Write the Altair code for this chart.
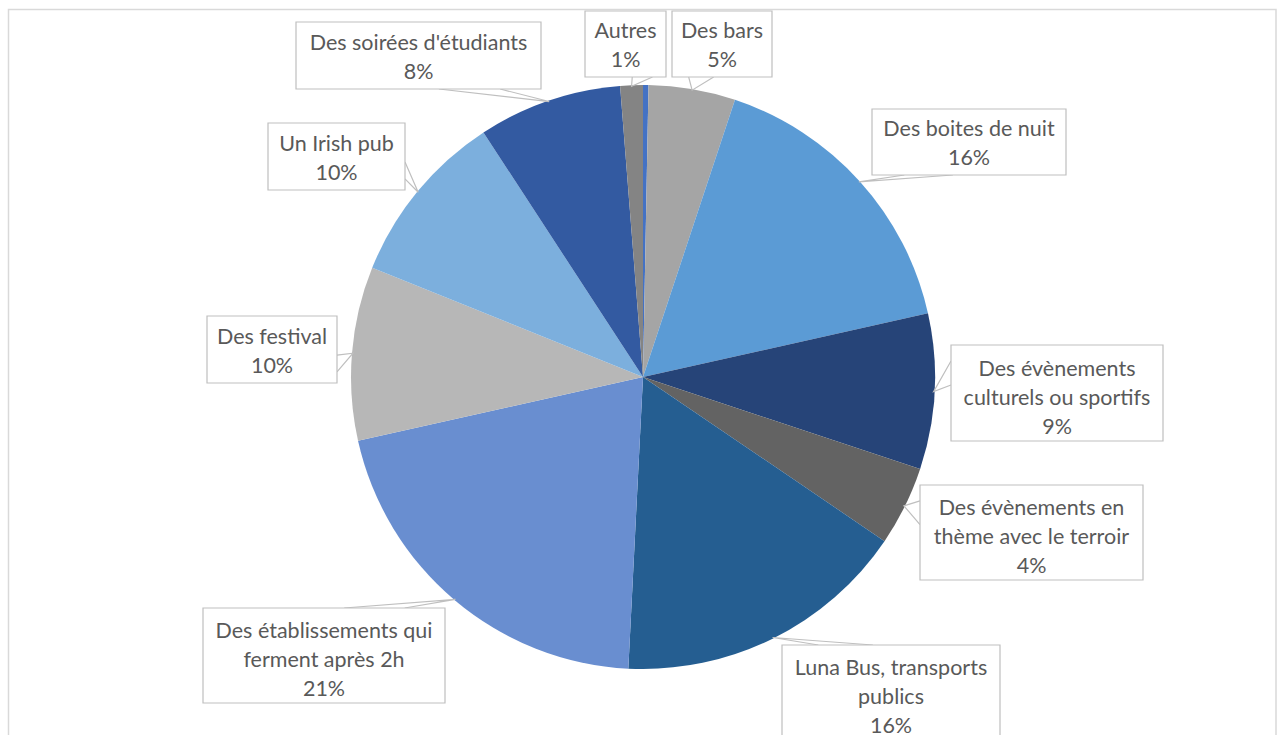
import math
import altair as alt
import pandas as pd

# ---- data ----
categories = [
    "(sans réponse)", "Des bars", "Des boites de nuit",
    "Des évènements culturels ou sportifs", "Des évènements en thème avec le terroir",
    "Luna Bus, transports publics", "Des établissements qui ferment après 2h",
    "Des festival", "Un Irish pub", "Des soirées d'étudiants", "Autres",
]
values = [0.3, 4.8, 16.4, 8.6, 4.4, 16.3, 20.7, 9.6, 9.7, 7.95, 1.25]
colors = ["#4472C4", "#A5A5A5", "#5B9BD5", "#264478", "#636363", "#255E91",
          "#698ED0", "#B7B7B7", "#7CAFDD", "#335AA1", "#848484"]
label_lines = [
    None, "Des bars", "Des boites de nuit", "Des évènements\nculturels ou sportifs",
    "Des évènements en\nthème avec le terroir", "Luna Bus, transports\npublics",
    "Des établissements qui\nferment après 2h", "Des festival", "Un Irish pub",
    "Des soirées d'étudiants", "Autres",
]

# ---- layout (label boxes: left, top, right, bottom in px) ----
W, H = 1278, 735
CX, CY, R = 643, 377, 292
boxes = [
    None, (672, 11, 772, 77), (872, 109, 1066, 175), (951, 345, 1163, 441),
    (920, 485, 1143, 580), (782, 645, 1000, 740), (203, 608, 445, 703),
    (207, 316, 337, 383), (268, 123, 405, 190), (296, 22, 541, 89), (585, 11, 666, 77),
]
LINE_H = 29

total = sum(values)
pie_df = pd.DataFrame({"cat": categories, "value": values, "order": range(len(values))})

box_rows, text_rows, ptr_rows = [], [], []
cum = 0.0
for i, (cat, v) in enumerate(zip(categories, values)):
    mid = (cum + v / 2) / total * 2 * math.pi
    cum += v
    if boxes[i] is None:
        continue
    l, t, r, b = boxes[i]
    w, h = r - l, b - t
    cx, cy = (l + r) / 2, (t + b) / 2
    tx, ty = CX + (R - 1) * math.sin(mid), CY - (R - 1) * math.cos(mid)
    txt = label_lines[i] + "\n" + f"{round(v / total * 100)}%"
    n = txt.count("\n") + 1
    box_rows.append({"l": l, "t": t, "r": r, "b": b})
    off = 23 if n < 3 else 26
    text_rows.append({"x": cx, "y": t + (h - n * LINE_H) / 2 + off, "txt": txt})
    dx, dy = (tx - cx) / w, (ty - cy) / h
    if abs(dx) > abs(dy):
        ex = r if dx > 0 else l
        f = (7 / 12, 5 / 6) if ty > cy else (1 / 6, 5 / 12)
        p1, p2 = (ex, t + f[0] * h), (ex, t + f[1] * h)
    else:
        ey = b if dy > 0 else t
        f = (7 / 12, 5 / 6) if tx > cx else (1 / 6, 5 / 12)
        p1, p2 = (l + f[0] * w, ey), (l + f[1] * w, ey)
    for k, (px, py) in enumerate([p1, (tx, ty), p2]):
        ptr_rows.append({"id": i, "k": k, "x": px, "y": py})

box_df = pd.DataFrame(box_rows)
text_df = pd.DataFrame(text_rows)
ptr_df = pd.DataFrame(ptr_rows)

xs = alt.Scale(domain=[0, W], range=[0, W])
ys = alt.Scale(domain=[0, H], range=[0, H])

frame = alt.Chart(pd.DataFrame({"a": [0]})).mark_rect(
    fill=None, stroke="#D9D9D9", strokeWidth=1.5
).encode(x=alt.value(8.5), x2=alt.value(1276), y=alt.value(9.5), y2=alt.value(760))

pie = alt.Chart(pie_df).mark_arc(outerRadius=R).encode(
    theta=alt.Theta("value:Q", stack=True),
    order=alt.Order("order:Q"),
    color=alt.Color("cat:N", scale=alt.Scale(domain=categories, range=colors), legend=None),
    x=alt.value(CX), y=alt.value(CY),
)

ptrs = alt.Chart(ptr_df).mark_line(color="#BFBFBF", strokeWidth=1.2).encode(
    x=alt.X("x:Q", scale=xs, axis=None),
    y=alt.Y("y:Q", scale=ys, axis=None),
    detail="id:N",
    order="k:Q",
)

rects = alt.Chart(box_df).mark_rect(fill="white", stroke="#BFBFBF", strokeWidth=1.2).encode(
    x=alt.X("l:Q", scale=xs, axis=None), x2="r:Q",
    y=alt.Y("t:Q", scale=ys, axis=None), y2="b:Q",
)

texts = alt.Chart(text_df).mark_text(
    font="Lato", fontSize=21.5, color="#595959", align="center", baseline="alphabetic",
    lineBreak="\n", lineHeight=LINE_H,
).encode(
    x=alt.X("x:Q", scale=xs, axis=None),
    y=alt.Y("y:Q", scale=ys, axis=None),
    text="txt:N",
)

chart = alt.layer(frame, pie, ptrs, rects, texts).properties(
    width=W, height=H, padding=0, autosize=alt.AutoSizeParams(type="none"), background="white"
).configure_view(stroke=None)

chart.save("out.html", embed_options={"renderer": "svg", "actions": False})
